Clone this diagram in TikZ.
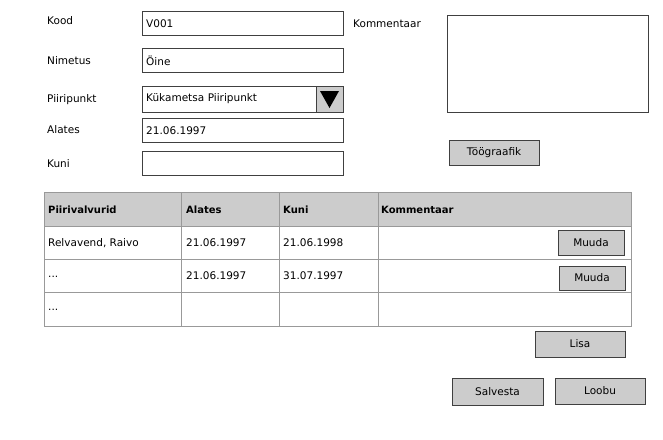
\documentclass[tikz,border=0pt]{standalone}
\usepackage{fontspec}
\setmainfont{DejaVu Sans}
\begin{document}
\begin{tikzpicture}[x=1pt,y=-1pt,
    every node/.style={font=\fontsize{10.5}{12}\selectfont},
    lbl/.style={anchor=west,inner sep=0pt},
    field/.style={draw=black!75,anchor=west,inner xsep=4pt,minimum height=24pt,
      text width=193pt,align=left},
    btn/.style={draw=black!75,fill=black!20,minimum height=25pt},
    cell/.style={anchor=west,inner sep=0pt},
    head/.style={cell,font=\fontsize{10}{12}\selectfont\bfseries},
    tbl/.style={draw=black!40}]
  \useasboundingbox (0,0) rectangle (663,439);
  % labels and fields
  \node[lbl] (koodl) at (47,21) {Kood};
  \node[lbl] (nimetusl) at (47,61) {Nimetus};
  \node[lbl] (piiril) at (47,100) {Piiripunkt};
  \node[lbl] (alatesl) at (47,130) {Alates};
  \node[lbl] (kunil) at (47,164) {Kuni};
  \node[field] (kood) at (142,23.5) {V001};
  \node[field] (nimetus) at (142,60.5) {Öine};
  \node[field,minimum height=26pt] (piiri) at (142,99) {Kükametsa Piiripunkt};
  \node[draw=black!75,fill=black!20,minimum width=27pt,minimum height=26pt] (drop) at (329.5,99) {};
  \fill ([xshift=-9.5pt,yshift=8pt]drop.center) -- ++(19pt,0) -- ++(-9.5pt,-17pt) -- cycle;
  \node[field] (alates) at (142,130.5) {21.06.1997};
  \node[field] (kuni) at (142,163.5) {};
  % comment
  \node[lbl] (komml) at (353,24) {Kommentaar};
  \node[draw=black!75,minimum width=201pt,minimum height=97pt] (komm) at (547.5,63.5) {};
  \node[btn,minimum width=90pt] (graafik) at (494,152.5) {Töögraafik};
  % table
  \fill[black!20] (44,192) rectangle (631,226);
  \draw[tbl] (44,192) rectangle (631,326);
  \foreach \y in {226,259,292}
    \draw[tbl] (44,\y) -- (631,\y);
  \foreach \x in {181,279,378}
    \draw[tbl] (\x,192) -- (\x,326);
  \node[head] (h1) at (48,210) {Piirivalvurid};
  \node[head] (h2) at (186,210) {Alates};
  \node[head] (h3) at (283,210) {Kuni};
  \node[head] (h4) at (381,210) {Kommentaar};
  \node[cell] (r1a) at (48,243) {Relvavend, Raivo};
  \node[cell] (r1b) at (186,243) {21.06.1997};
  \node[cell] (r1c) at (283,243) {21.06.1998};
  \node[cell] (r2a) at (48,277) {...};
  \node[cell] (r2b) at (186,276) {21.06.1997};
  \node[cell] (r2c) at (283,276) {31.07.1997};
  \node[cell] (r3a) at (48,310) {...};
  \node[btn,minimum width=66pt] (muuda1) at (591,242.5) {Muuda};
  \node[btn,minimum width=66pt,minimum height=24pt] (muuda2) at (592,278) {Muuda};
  % buttons
  \node[btn,minimum width=90pt,minimum height=26pt] (lisa) at (580,344) {Lisa};
  \node[btn,minimum width=91pt,minimum height=27pt] (salvesta) at (497.5,391.5) {Salvesta};
  \node[btn,minimum width=90pt,minimum height=26pt] (loobu) at (600,391) {Loobu};
\end{tikzpicture}
\end{document}
